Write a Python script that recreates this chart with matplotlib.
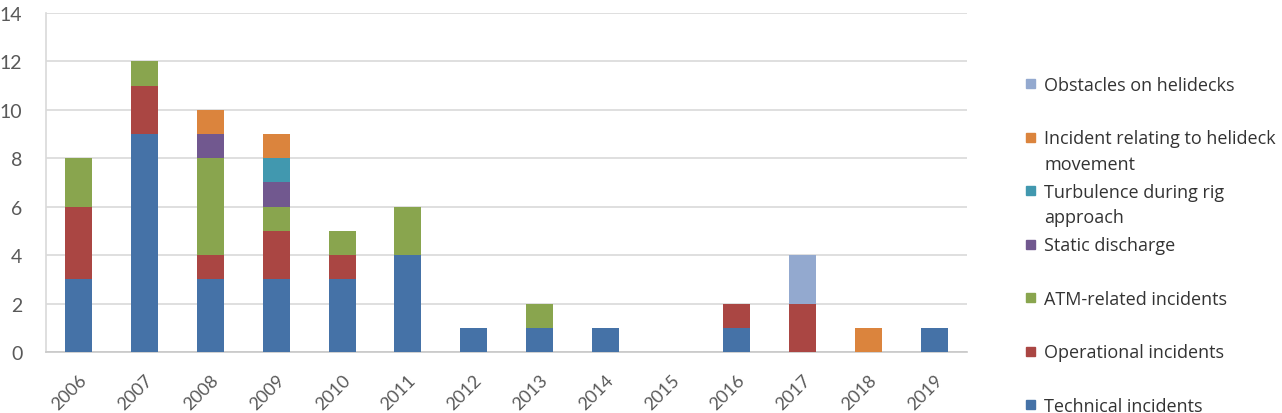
import matplotlib
matplotlib.use('Agg')
from matplotlib import pyplot as plt
from matplotlib.patches import Rectangle
import matplotlib.transforms as mtransforms
import numpy as np

years = ['2006', '2007', '2008', '2009', '2010', '2011', '2012',
         '2013', '2014', '2015', '2016', '2017', '2018', '2019']

technical = [3, 9, 3, 3, 3, 4, 1, 1, 1, 0, 1, 0, 0, 1]
operational = [3, 2, 1, 2, 1, 0, 0, 0, 0, 0, 1, 2, 0, 0]
atm_related = [2, 1, 4, 1, 1, 2, 0, 1, 0, 0, 0, 0, 0, 0]
static_discharge = [0, 0, 1, 1, 0, 0, 0, 0, 0, 0, 0, 0, 0, 0]
turbulence = [0, 0, 0, 1, 0, 0, 0, 0, 0, 0, 0, 0, 0, 0]
helideck_movement = [0, 0, 1, 1, 0, 0, 0, 0, 0, 0, 0, 0, 1, 0]
obstacles = [0, 0, 0, 0, 0, 0, 0, 0, 0, 0, 0, 2, 0, 0]

series = [
    ('Technical incidents', technical, '#4572A7'),
    ('Operational incidents', operational, '#AA4643'),
    ('ATM-related incidents', atm_related, '#89A54E'),
    ('Static discharge', static_discharge, '#71588F'),
    ('Turbulence during rig\napproach', turbulence, '#4198AF'),
    ('Incident relating to helideck\nmovement', helideck_movement, '#DB843D'),
    ('Obstacles on helidecks', obstacles, '#93A9CF'),
]

plt.rcParams['font.family'] = ['Lato', 'DejaVu Sans']

fig = plt.figure(figsize=(12.82, 4.14), dpi=100)
ax = fig.add_axes([0.0359, 0.1473, 0.7184, 0.819])

x = np.arange(len(years))
bottom = np.zeros(len(years))
for name, vals, color in series:
    ax.bar(x, vals, width=0.41, bottom=bottom, color=color, zorder=3)
    bottom += np.array(vals)

ax.set_xlim(-0.5, len(years) - 0.5)
ax.set_ylim(0, 14)
ax.set_yticks(range(0, 15, 2))
ax.set_xticks(x)
ax.set_xticklabels(years, rotation=45, ha='right', rotation_mode='anchor',
                   fontsize=13, color='#595959')
offset = mtransforms.ScaledTranslation(2 / 100, 0, fig.dpi_scale_trans)
for lab in ax.get_xticklabels():
    lab.set_transform(lab.get_transform() + offset)
ax.tick_params(axis='x', length=0, pad=14)
ax.tick_params(axis='y', length=0, pad=17, labelsize=14, labelcolor='#595959')
ax.grid(axis='y', color='#D9D9D9', linewidth=1.2, zorder=0)
for side in ['top', 'right']:
    ax.spines[side].set_visible(False)
ax.spines['left'].set_color('#D9D9D9')
ax.spines['bottom'].set_color('#C8C8C8')
ax.spines['left'].set_linewidth(1.2)
ax.spines['bottom'].set_linewidth(1.2)

# legend drawn by hand, entries evenly spaced like Excel
W, H = 1282, 414
for i, (name, vals, color) in enumerate(reversed(series)):
    yc = 84 + i * 53.5
    fig.patches.append(Rectangle((1026 / W, 1 - (yc + 5) / H), 9 / W, 9 / H,
                                 transform=fig.transFigure, color=color,
                                 figure=fig))
    fig.text(1044 / W, 1 - (yc - 7) / H, name, fontsize=13, color='#333333',
             va='top', ha='left', linespacing=1.5, family=['Open Sans', 'DejaVu Sans'])

fig.savefig('out.png', dpi=100)
